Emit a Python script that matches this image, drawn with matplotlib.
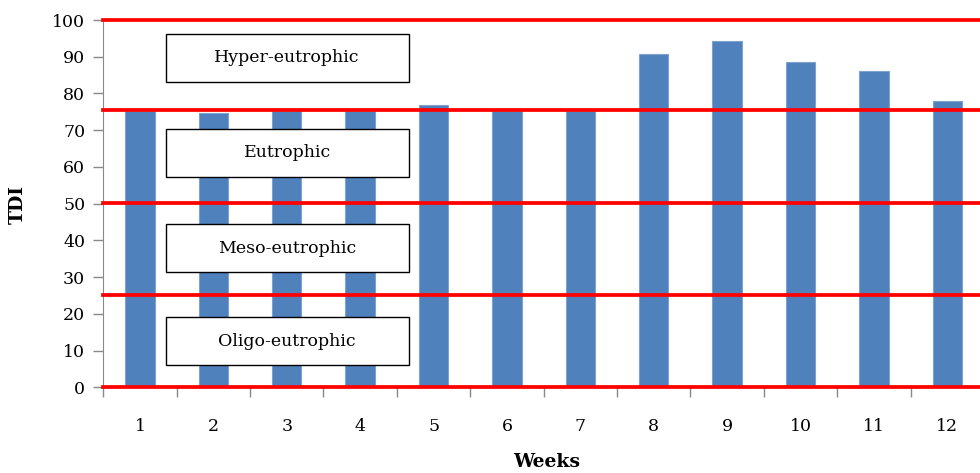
import matplotlib.pyplot as plt
from matplotlib.patches import Rectangle

weeks = ['1', '2', '3', '4', '5', '6', '7', '8', '9', '10', '11', '12']
tdi = [75.3, 74.8, 75.3, 75.3, 76.9, 75.3, 75.3, 90.7, 94.2, 88.6, 86.1, 77.9]

# trophic class limits and their labels
limits = [0, 25.1, 50.1, 75.5, 100]
classes = ['Oligo-eutrophic', 'Meso-eutrophic', 'Eutrophic', 'Hyper-eutrophic']
class_y = [12.6, 37.9, 63.8, 89.7]

plt.rcParams['font.family'] = ['DejaVu Serif']

fig = plt.figure(figsize=(9.8, 4.73), dpi=100)
ax = fig.add_axes([0.1054, 0.1812, 0.8987, 0.7765])

x = list(range(len(weeks)))
ax.bar(x, tdi, width=0.4, color='#4f81bd', edgecolor='#7fa3cf', linewidth=0.8, zorder=2)

for lim in limits:
    ax.axhline(lim, color='#ff0000', linewidth=2.7, zorder=3, clip_on=False)

# class boxes
box_left, box_w, box_h = 0.35, 3.31, 13
for name, yc in zip(classes, class_y):
    ax.add_patch(Rectangle((box_left, yc - box_h / 2), box_w, box_h,
                           facecolor='white', edgecolor='black', linewidth=1.0, zorder=4))
    ax.text(box_left + box_w / 2, yc, name, ha='center', va='center',
            fontsize=12.5, zorder=5)

ax.set_xlim(-0.5, len(weeks) - 0.5)
ax.set_ylim(0, 100)
ax.set_yticks(range(0, 101, 10))
ax.tick_params(axis='y', direction='out', length=7, width=1, color='#898989',
               labelsize=12.5, pad=6)

# ticks between categories, labels under each bar
ax.set_xticks([i - 0.5 for i in range(len(weeks) + 1)])
ax.set_xticklabels([])
ax.set_xticks(x, minor=True)
ax.set_xticklabels(weeks, minor=True)
ax.tick_params(axis='x', which='major', direction='out', length=7, width=1, color='#898989')
ax.tick_params(axis='x', which='minor', length=0, labelsize=12.5, pad=22)

for side in ['top', 'right']:
    ax.spines[side].set_visible(False)
ax.spines['left'].set_color('#898989')
ax.spines['bottom'].set_color('#898989')

fig.text(0.0184, 0.567, 'TDI', rotation=90, ha='center', va='center',
         fontsize=13.5, fontweight='bold')
fig.text(0.558, 0.023, 'Weeks', ha='center', va='center',
         fontsize=13.5, fontweight='bold')

fig.savefig('out.png', dpi=100)
